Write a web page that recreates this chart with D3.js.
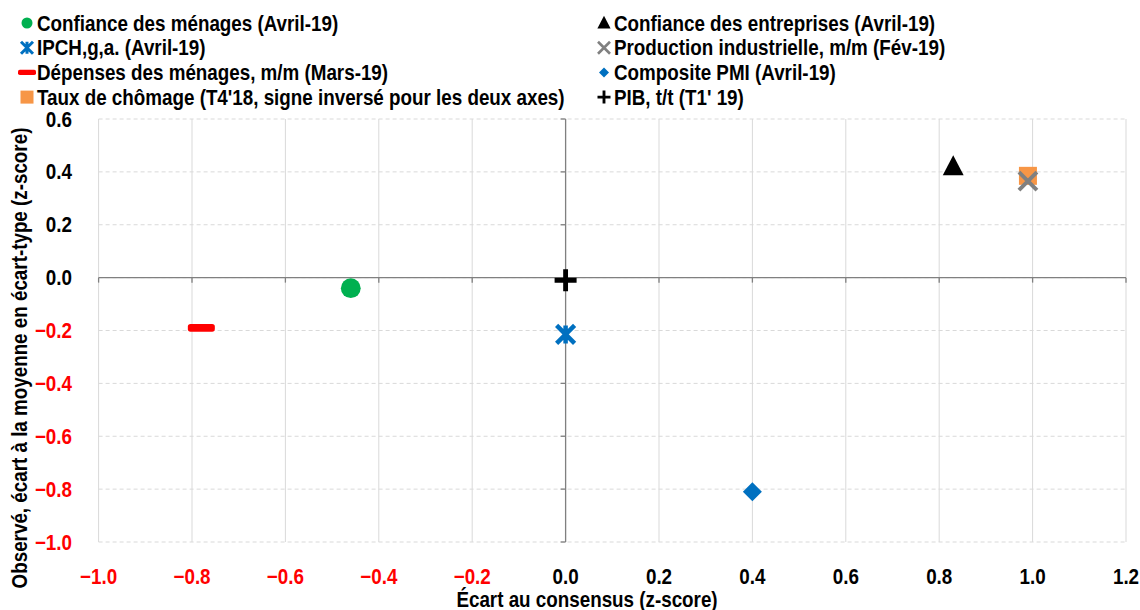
<!DOCTYPE html>
<html>
<head>
<meta charset="utf-8">
<script src="https://cdn.jsdelivr.net/npm/d3@7"></script>
<style>
  body { margin: 0; background: #fff; }
  svg text { font-family: "Liberation Sans", Arial, sans-serif; font-weight: bold; }
</style>
</head>
<body>
<div id="chart"></div>
<script>
// Series (name, x = écart au consensus, y = observé)
const seriesNames = [
  'Confiance des ménages (Avril-19)',
  'IPCH,g,a. (Avril-19)',
  'Dépenses des ménages, m/m (Mars-19)',
  'Taux de chômage (T4\'18, signe inversé pour les deux axes)',
  'Confiance des entreprises (Avril-19)',
  'Production industrielle, m/m (Fév-19)',
  'Composite PMI (Avril-19)',
  'PIB, t/t (T1\' 19)'
];
const xValues = [-0.46, 0.0, -0.78, 0.99, 0.83, 0.99, 0.40, 0.0];
const yValues = [-0.04, -0.215, -0.19, 0.385, 0.42, 0.365, -0.81, -0.01];
const markerTypes = ['circle', 'star', 'dash', 'square', 'triangle', 'cross', 'diamond', 'plus'];
const markerColors = ['#00b050', '#0070c0', '#ff0000', '#f79646', '#000000', '#808080', '#0070c0', '#000000'];

const xTicks = [-1.0, -0.8, -0.6, -0.4, -0.2, 0.0, 0.2, 0.4, 0.6, 0.8, 1.0, 1.2];
const yTicks = [0.6, 0.4, 0.2, 0.0, -0.2, -0.4, -0.6, -0.8, -1.0];

const width = 1140, height = 610;
const margin = { top: 119, right: 14, bottom: 68, left: 98.6 };
const squeeze = 0.875; // narrow bold look of the original font

const svg = d3.select('#chart').append('svg')
  .attr('width', width)
  .attr('height', height);

const x = d3.scaleLinear().domain([-1.0, 1.2]).range([margin.left, width - margin.right]);
const y = d3.scaleLinear().domain([-1.0, 0.6]).range([height - margin.bottom, margin.top]);

// condensed text helper
function addText(parent, tx, ty, str, anchor, color, rotate) {
  return parent.append('text')
    .attr('transform', `translate(${tx},${ty})` + (rotate ? ' rotate(-90)' : '') + ` scale(${squeeze},1)`)
    .style('text-anchor', anchor)
    .style('font-size', '21.5px')
    .style('fill', color || '#000')
    .text(str);
}

// Gridlines
svg.append('g').selectAll('line')
  .data(yTicks)
  .enter().append('line')
  .attr('x1', x(-1.0)).attr('x2', x(1.2))
  .attr('y1', d => y(d)).attr('y2', d => y(d))
  .style('stroke', '#d9d9d9')
  .style('stroke-width', 1)
  .style('stroke-dasharray', '4,3');

svg.append('g').selectAll('line')
  .data(xTicks)
  .enter().append('line')
  .attr('x1', d => x(d)).attr('x2', d => x(d))
  .attr('y1', y(0.6)).attr('y2', y(-1.0))
  .style('stroke', '#d9d9d9')
  .style('stroke-width', 1);

// Axis lines through zero
svg.append('line')
  .attr('x1', x(-1.0)).attr('x2', x(1.2))
  .attr('y1', y(0)).attr('y2', y(0))
  .style('stroke', '#808080').style('stroke-width', 1.3);
svg.append('line')
  .attr('x1', x(0)).attr('x2', x(0))
  .attr('y1', y(0.6)).attr('y2', y(-1.0))
  .style('stroke', '#808080').style('stroke-width', 1.3);

// Small tick marks on the zero lines
svg.append('g').selectAll('line')
  .data(xTicks)
  .enter().append('line')
  .attr('x1', d => x(d)).attr('x2', d => x(d))
  .attr('y1', y(0)).attr('y2', y(0) + 5)
  .style('stroke', '#808080').style('stroke-width', 1.3);
svg.append('g').selectAll('line')
  .data(yTicks)
  .enter().append('line')
  .attr('x1', x(0) - 5).attr('x2', x(0))
  .attr('y1', d => y(d)).attr('y2', d => y(d))
  .style('stroke', '#808080').style('stroke-width', 1.3);

// Tick labels
const fmt = d3.format('.1f');
const yLabels = svg.append('g');
yTicks.forEach(d => {
  addText(yLabels, 72, y(d) + 7.5, fmt(d), 'end', d < 0 ? '#ff0000' : '#000');
});
const xLabels = svg.append('g');
xTicks.forEach(d => {
  addText(xLabels, x(d), 584, fmt(d), 'middle', d < 0 ? '#ff0000' : '#000');
});

// Axis titles
addText(svg, 587, 607, 'Écart au consensus (z-score)', 'middle');
addText(svg, 27, 358, 'Observé, écart à la moyenne en écart-type (z-score)', 'middle', '#000', true);

// Marker drawing
function drawMarker(g, type, color, s) {
  switch (type) {
    case 'circle':
      g.append('circle').attr('r', s * 0.55).style('fill', color);
      break;
    case 'square':
      g.append('rect').attr('x', -s / 2).attr('y', -s / 2).attr('width', s).attr('height', s).style('fill', color);
      break;
    case 'triangle':
      g.append('path').attr('d', `M0,${-s * 0.6}L${s * 0.55},${s * 0.45}L${-s * 0.55},${s * 0.45}Z`).style('fill', color);
      break;
    case 'diamond':
      g.append('path').attr('d', `M0,${-s / 2}L${s / 2},0L0,${s / 2}L${-s / 2},0Z`).style('fill', color);
      break;
    case 'dash':
      g.append('rect').attr('x', -s * 0.75).attr('y', -s * 0.22).attr('width', s * 1.5).attr('height', s * 0.44)
        .attr('rx', s * 0.15).style('fill', color);
      break;
    case 'cross':
      g.append('path').attr('d', `M${-s / 2},${-s / 2}L${s / 2},${s / 2}M${s / 2},${-s / 2}L${-s / 2},${s / 2}`)
        .style('stroke', color).style('stroke-width', s * 0.22).style('fill', 'none');
      break;
    case 'star':
      g.append('path').attr('d', `M${-s / 2},${-s / 2}L${s / 2},${s / 2}M${s / 2},${-s / 2}L${-s / 2},${s / 2}M0,${-s / 2}L0,${s / 2}`)
        .style('stroke', color).style('stroke-width', s * 0.25).style('fill', 'none');
      break;
    case 'plus':
      g.append('path').attr('d', `M${-s / 2},0L${s / 2},0M0,${-s / 2}L0,${s / 2}`)
        .style('stroke', color).style('stroke-width', s * 0.22).style('fill', 'none');
      break;
  }
}

const markerSizes = [18, 18, 18, 18, 19, 18, 19, 22];

// Data points
seriesNames.forEach((name, i) => {
  const g = svg.append('g')
    .attr('class', 'point')
    .attr('transform', `translate(${x(xValues[i])},${y(yValues[i])})`);
  drawMarker(g, markerTypes[i], markerColors[i], markerSizes[i]);
});

// Legend: two columns, four rows
const legendSizes = [10, 12, 12, 13, 12, 12, 10, 13];
seriesNames.forEach((name, i) => {
  const col = Math.floor(i / 4);
  const row = i % 4;
  const lx = col === 0 ? 27 : 604;
  const ly = 23 + row * 24.7;
  const g = svg.append('g').attr('transform', `translate(${lx},${ly})`);
  drawMarker(g, markerTypes[i], markerColors[i], legendSizes[i]);
  addText(g, 10, 7.5, name, 'start');
});
</script>
</body>
</html>
